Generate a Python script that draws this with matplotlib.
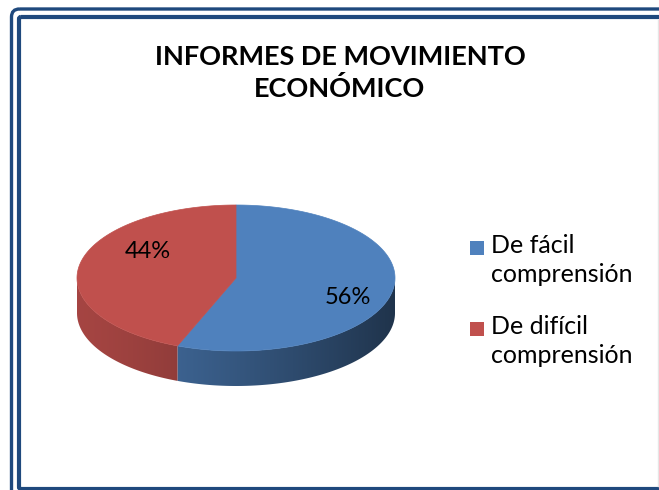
import numpy as np
import matplotlib.pyplot as plt
from matplotlib.patches import FancyBboxPatch, Polygon, Rectangle
from matplotlib.colors import to_rgb

plt.rcParams['font.family'] = ['Lato', 'DejaVu Sans']

title = "INFORMES DE MOVIMIENTO\nECONÓMICO"
labels = ["De fácil\ncomprensión", "De difícil\ncomprensión"]
values = [56, 44]
colors = ["#4F81BD", "#C0504D"]

W, H = 659, 490
fig = plt.figure(figsize=(W / 100, H / 100), dpi=100)
ax = fig.add_axes([0, 0, 1, 1])
ax.set_xlim(0, W)
ax.set_ylim(H, 0)
ax.axis('off')

# double frame like the office chart border
frame = "#1F497D"
ax.add_patch(FancyBboxPatch((11.5, 9), 700, 520, boxstyle="round,pad=0,rounding_size=8",
                            fill=False, ec=frame, lw=2.4))
ax.add_patch(FancyBboxPatch((19, 17), 700, 472, boxstyle="round,pad=0,rounding_size=2",
                            fill=False, ec=frame, lw=3.0))
ax.plot([658, 658], [20, 486], color="#e6e6e6", lw=1)

# pie geometry (pixels)
cx, cy, a, b, depth = 236, 278, 159, 73, 35
fr = np.array(values, dtype=float) / sum(values)
edges = np.concatenate([[0], np.cumsum(fr)]) * 2 * np.pi

def pt(t, dy=0.0):
    return cx + a * np.sin(t), cy - b * np.cos(t) + dy

# side wall (front half), shaded darker to the right
xs_img = np.linspace(cx - a, cx + a, 400)
u = (xs_img - (cx - a)) / (2 * a)
shade = 0.86 - 0.46 * u ** 1.3
for i in range(len(values)):
    t0, t1 = max(edges[i], np.pi / 2), min(edges[i + 1], 3 * np.pi / 2)
    if t1 <= t0:
        continue
    ts = np.linspace(t0, t1, 200)
    xt, yt = pt(ts)
    poly = list(zip(xt, yt)) + list(zip(xt[::-1], yt[::-1] + depth))
    clip = Polygon(poly, closed=True, fc='none', ec='none')
    ax.add_patch(clip)
    base = np.array(to_rgb(colors[i]))
    img = (shade[:, None] * base[None, :])[None, :, :].repeat(2, axis=0)
    im = ax.imshow(img, extent=(cx - a, cx + a, cy + b + depth + 2, cy - 2),
                   aspect='auto', interpolation='bilinear')
    im.set_clip_path(clip)
ax.set_xlim(0, W)
ax.set_ylim(H, 0)

# top face
for i in range(len(values)):
    ts = np.linspace(edges[i], edges[i + 1], 200)
    xs, ys = pt(ts)
    poly = [(cx, cy)] + list(zip(xs, ys))
    ax.add_patch(Polygon(poly, closed=True, fc=colors[i], ec=colors[i], lw=0.5))

# percentage labels
label_pos = [(348, 297), (148, 251)]
for v, (x, y) in zip(values, label_pos):
    ax.text(x, y, f"{v}%", fontsize=17, ha='center', va='center', color='black')

ax.text(340, 73, title, fontsize=19.5, fontweight='bold', ha='center', va='center',
        linespacing=1.38)

# legend
leg_y = [248, 329]
for lab, c, y in zip(labels, colors, leg_y):
    ax.add_patch(Rectangle((470, y - 7), 14, 14, fc=c, ec='none'))
    ax.text(491, y - 14, lab, fontsize=18, ha='left', va='top', linespacing=1.3)

fig.savefig("out.png", dpi=100)
